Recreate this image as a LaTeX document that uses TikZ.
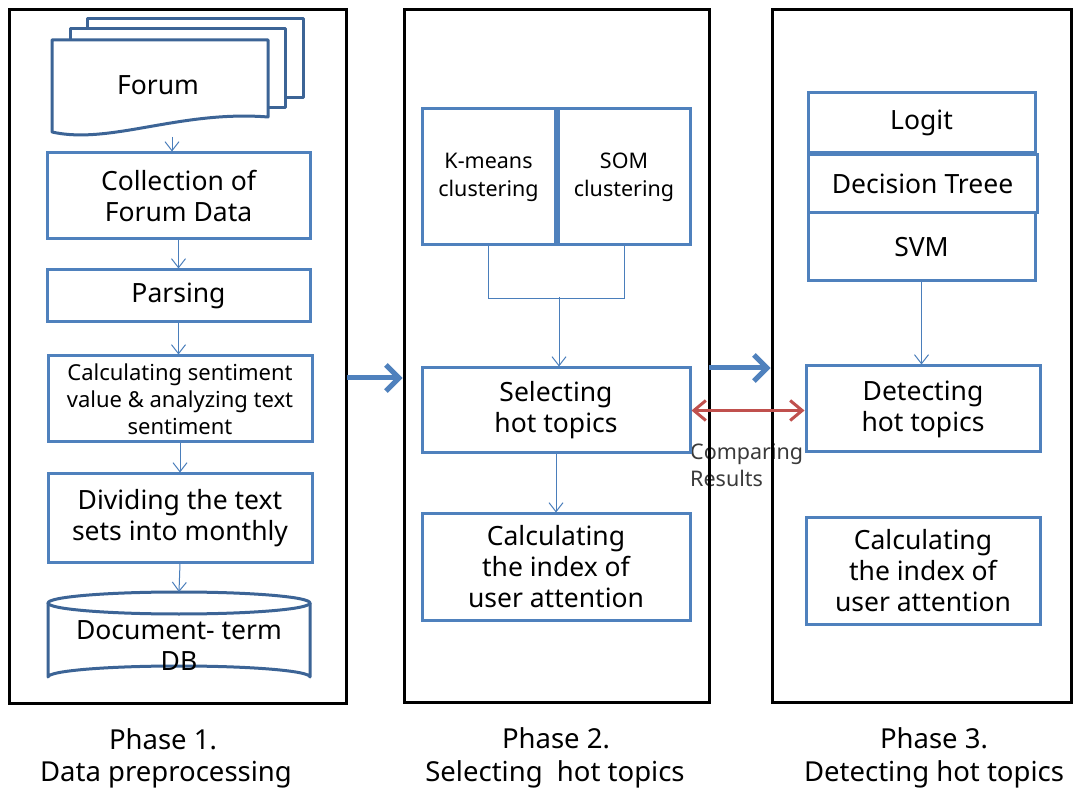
\documentclass[tikz,border=0pt]{standalone}
\usepackage{fontspec}
\setmainfont{Noto Sans}
\usetikzlibrary{arrows.meta}
\definecolor{boxblue}{HTML}{4F81BD}
\definecolor{darkblue}{HTML}{3C6496}
\definecolor{arrblue}{HTML}{4A7EBB}
\definecolor{redarr}{HTML}{C0504D}
\definecolor{txtgray}{HTML}{3A3A3A}
\begin{document}
\begin{tikzpicture}[x=1pt,y=-1pt,
  phase/.style={draw=black, line width=3pt, inner sep=0pt},
  bx/.style={draw=boxblue, line width=3pt, fill=white, inner sep=0pt, align=center, font=\fontsize{26.5}{31}\selectfont},
  bigtxt/.style={font=\fontsize{26.5}{31}\selectfont},
  smalltxt/.style={font=\fontsize{22}{27}\selectfont},
  tinytxt/.style={font=\fontsize{21.5}{28}\selectfont},
  thinarr/.style={draw=arrblue, line width=1pt, -{Straight Barb[length=9pt,width=14pt]}},
  bigarr/.style={draw=boxblue, line width=5pt, -{Straight Barb[length=13pt,width=26pt]}},
  cmparr/.style={draw=redarr, line width=3pt, {Straight Barb[length=12pt,width=20pt]}-{Straight Barb[length=12pt,width=20pt]}},
  lbl/.style={font=\fontsize{27.5}{34}\selectfont, anchor=base, inner sep=0pt},
  doc/.style={draw=darkblue, line width=3pt, fill=white, line join=round}
]
\useasboundingbox (0,0) rectangle (1077,791);
\fill[white] (0,0) rectangle (1077,791);

% comparing text (behind phase borders)
\node[anchor=base west, inner sep=0pt, tinytxt, text=txtgray] (cmp1) at (690,460) {Comparing};
\node[anchor=base west, inner sep=0pt, tinytxt, text=txtgray] (cmp2) at (690,487) {Results};

% phase boxes
\node[phase, minimum width=337pt, minimum height=693pt] (p1) at (177.5,356.5) {};
\node[phase, minimum width=305pt, minimum height=692pt] (p2) at (556.5,356) {};
\node[phase, minimum width=299pt, minimum height=692pt] (p3) at (921.5,356) {};

% Phase 1: forum document stack
\draw[doc] (87,19) rectangle (303,98);
\draw[doc] (70,29) rectangle (285,108);
\draw[doc] (52,40) -- (268,40) -- (268,117) .. controls (180,110) and (110,145) .. (52,132) -- cycle;
\node[inner sep=0pt, bigtxt] (forum) at (158,85) {Forum};
\coordinate (fb) at (172,137);

\node[bx, minimum width=263pt, minimum height=86pt] (coll) at (178.5,196) {Collection of\\Forum Data};
\node[bx, minimum width=263pt, minimum height=52pt] (pars) at (178.5,296) {Parsing};
\node[bx, smalltxt, minimum width=264pt, minimum height=86pt] (calc) at (180,399) {Calculating sentiment\\value \& analyzing text\\sentiment};
\node[bx, minimum width=264pt, minimum height=88pt] (div) at (180,518) {Dividing the text\\sets into monthly};

% cylinder
\draw[doc] (48,603) -- (48,677) arc[start angle=180, end angle=360, x radius=131, y radius=11] -- (310,603);
\draw[doc] (179,603) ellipse[x radius=131, y radius=11];
\node[inner sep=0pt, align=center, bigtxt] (db) at (179,646) {Document- term\\DB};
\coordinate (dbtop) at (179,592);

\draw[thinarr] (fb) -- (fb |- coll.north);
\draw[thinarr] (coll.south) -- (pars.north);
\draw[thinarr] (pars.south) -- (pars.south |- calc.north);
\draw[thinarr] (calc.south) -- (div.north);
\draw[thinarr] (div.south) -- (dbtop);

% Phase 2
\node[bx, tinytxt, minimum width=133pt, minimum height=136pt] (km) at (488.5,177) {K-means\\clustering};
\node[bx, tinytxt, minimum width=132pt, minimum height=136pt] (som) at (624,177) {SOM\\clustering};
\node[bx, minimum width=268pt, minimum height=85pt] (sel) at (556,410.5) {Selecting\\hot topics};
\node[bx, minimum width=268pt, minimum height=106pt] (calcb) at (556,567) {Calculating\\the index of\\user attention};
\draw[draw=arrblue, line width=1pt] (km.south) -- ++(0,52) -| (som.south);
\coordinate (mid) at (559,297);
\draw[thinarr] (mid) -- (mid |- sel.north);
\draw[thinarr] (sel.south) -- (calcb.north);

% Phase 3
\node[bx, minimum width=227pt, minimum height=60pt] (logit) at (921.5,123) {Logit};
\node[bx, minimum width=229pt, minimum height=58pt] (dt) at (922.5,184) {Decision Treee};
\node[bx, minimum width=227pt, minimum height=68pt] (svm) at (921.5,247) {SVM};
\node[bx, minimum width=234pt, minimum height=86pt] (det) at (923,409) {Detecting\\hot topics};
\node[bx, minimum width=234pt, minimum height=106pt] (calcc) at (923,571) {Calculating\\the index of\\user attention};
\draw[thinarr] (svm.south) -- (svm.south |- det.north);

% phase arrows
\coordinate (a1) at (347,378);
\draw[bigarr] (a1) -- (a1 -| p2.west);
\coordinate (a2) at (709,368);
\draw[bigarr] (a2) -- (a2 -| p3.west);
\draw[cmparr] (sel.east) -- (sel.east -| det.west);

% phase labels
\node[lbl] (l1a) at (163,749) {Phase 1.};
\node[lbl] (l1b) at (166,781) {Data preprocessing};
\node[lbl] (l2a) at (556,748) {Phase 2.};
\node[lbl] (l2b) at (555,781) {Selecting\ \ hot topics};
\node[lbl] (l3a) at (934,748) {Phase 3.};
\node[lbl] (l3b) at (934,781) {Detecting hot topics};
\end{tikzpicture}
\end{document}
